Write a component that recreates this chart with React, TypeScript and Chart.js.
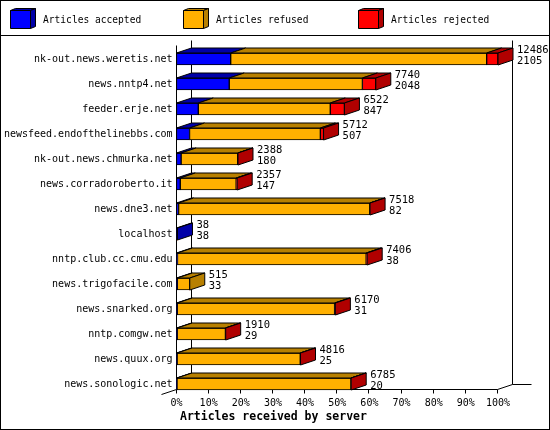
import React, { useEffect, useRef } from "react";
import { Chart, registerables } from "chart.js";

Chart.register(...registerables);

// servers, top to bottom
const hosts = [
  "nk-out.news.weretis.net",
  "news.nntp4.net",
  "feeder.erje.net",
  "newsfeed.endofthelinebbs.com",
  "nk-out.news.chmurka.net",
  "news.corradoroberto.it",
  "news.dne3.net",
  "localhost",
  "nntp.club.cc.cmu.edu",
  "news.trigofacile.com",
  "news.snarked.org",
  "nntp.comgw.net",
  "news.quux.org",
  "news.sonologic.net",
];

// numbers printed to the right of each bar
const totals = [12486, 7740, 6522, 5712, 2388, 2357, 7518, 38, 7406, 515, 6170, 1910, 4816, 6785];
const accepted = [2105, 2048, 847, 507, 180, 147, 82, 38, 38, 33, 31, 29, 25, 20];
// estimated from the bar segments
const refused = [9941, 5172, 5125, 5080, 2198, 2170, 7426, 0, 7328, 482, 6109, 1871, 4781, 6755];
const rejected = [440, 520, 550, 125, 10, 40, 10, 0, 40, 0, 30, 10, 10, 10];

const percentTicks = [0, 10, 20, 30, 40, 50, 60, 70, 80, 90, 100];

const seriesLabels = ["Articles accepted", "Articles refused", "Articles rejected"];
const frontColors = ["#0000ff", "#ffb000", "#ff0000"];
const darkColors = ["#0000a8", "#b88000", "#b00000"];

const MONO = "'DejaVu Sans Mono', monospace";
const DX = 15;
const DY = -5;
const BAR_H = 12;

const maxTotal = Math.max(...totals);

const poly = (ctx: CanvasRenderingContext2D, pts: number[][], fill: string) => {
  ctx.beginPath();
  ctx.moveTo(pts[0][0], pts[0][1]);
  for (let i = 1; i < pts.length; i++) ctx.lineTo(pts[i][0], pts[i][1]);
  ctx.closePath();
  ctx.fillStyle = fill;
  ctx.fill();
  ctx.stroke();
};

const line = (ctx: CanvasRenderingContext2D, x1: number, y1: number, x2: number, y2: number) => {
  ctx.beginPath();
  ctx.moveTo(x1, y1);
  ctx.lineTo(x2, y2);
  ctx.stroke();
};

const frame3d = {
  id: "frame3d",
  beforeDraw(chart: any) {
    const ctx = chart.ctx as CanvasRenderingContext2D;
    const { width, height } = chart;
    ctx.save();
    ctx.fillStyle = "#fff";
    ctx.fillRect(0, 0, width, height);
    ctx.strokeStyle = "#000";
    ctx.lineWidth = 1;
    ctx.strokeRect(0.5, 0.5, width - 1, height - 1);
    line(ctx, 0, 35.5, width, 35.5);

    // legend with little cubes
    const boxX = [10, 183, 358];
    ctx.font = `9.6px ${MONO}`;
    ctx.textBaseline = "middle";
    seriesLabels.forEach((lab, i) => {
      const x = boxX[i] + 0.5;
      const y = 10.5;
      const w = 20;
      const h = 18;
      poly(ctx, [[x, y], [x + w, y], [x + w + 5, y - 2], [x + 5, y - 2]], darkColors[i]);
      poly(ctx, [[x + w, y], [x + w + 5, y - 2], [x + w + 5, y + h - 2], [x + w, y + h]], darkColors[i]);
      poly(ctx, [[x, y], [x + w, y], [x + w, y + h], [x, y + h]], frontColors[i]);
      ctx.fillStyle = "#000";
      ctx.fillText(lab, boxX[i] + 33, 20);
    });
    ctx.restore();
  },
  beforeDatasetsDraw(chart: any) {
    const ctx = chart.ctx as CanvasRenderingContext2D;
    const xs = chart.scales.x;
    const ys = chart.scales.y;
    const left = Math.round(xs.getPixelForValue(0)) - 0.5;
    const right = Math.round(xs.getPixelForValue(maxTotal)) - 0.5;
    const floor = Math.round(ys.getPixelForValue(hosts.length - 1) + BAR_H / 2) - 0.5;
    const top = 40.5;
    ctx.save();
    ctx.strokeStyle = "#000";
    ctx.lineWidth = 1;
    line(ctx, left + DX, top, left + DX, floor + DY);
    line(ctx, right + DX, top, right + DX, floor + DY);
    line(ctx, left, top - DY, left, floor);
    line(ctx, left, floor, right, floor);
    line(ctx, right, floor, right + DX, floor + DY);
    line(ctx, right + DX, floor + DY, right + DX + 19, floor + DY);
    line(ctx, left, floor, left - DX, floor - DY);
    percentTicks.forEach((p) => {
      const tx = Math.round(xs.getPixelForValue((p / 100) * maxTotal)) - 0.5;
      line(ctx, tx, floor, tx, floor + 4);
    });
    ctx.restore();
  },
  afterDatasetsDraw(chart: any) {
    const ctx = chart.ctx as CanvasRenderingContext2D;
    ctx.save();
    ctx.strokeStyle = "#000";
    ctx.lineWidth = 1;
    hosts.forEach((_, i) => {
      let last: any = null;
      let lastDs = 0;
      for (let d = 0; d < 3; d++) {
        const el = chart.getDatasetMeta(d).data[i];
        const v = chart.data.datasets[d].data[i];
        if (!el || !v) continue;
        const { x, y, base } = el.getProps(["x", "y", "base"], true);
        const t = y - BAR_H / 2;
        poly(ctx, [[base, t], [x, t], [x + DX, t + DY], [base + DX, t + DY]], darkColors[d]);
        last = { x, y };
        lastDs = d;
      }
      if (!last) return;
      const t = last.y - BAR_H / 2;
      const b = last.y + BAR_H / 2;
      poly(ctx, [[last.x, t], [last.x + DX, t + DY], [last.x + DX, b + DY], [last.x, b]], darkColors[lastDs]);
      ctx.fillStyle = "#000";
      ctx.font = `10.5px ${MONO}`;
      ctx.textBaseline = "middle";
      ctx.textAlign = "left";
      ctx.fillText(String(totals[i]), last.x + DX + 4, last.y - 9);
      ctx.fillText(String(accepted[i]), last.x + DX + 4, last.y + 2);
    });

    // axis title
    ctx.font = `bold 11.5px ${MONO}`;
    ctx.fillText("Articles received by server", 180, 417);
    ctx.restore();
  },
};

export default function App() {
  const canvasRef = useRef<HTMLCanvasElement>(null);

  useEffect(() => {
    if (!canvasRef.current) return;
    const series = [accepted, refused, rejected];
    const chart = new Chart(canvasRef.current, {
      type: "bar",
      data: {
        labels: hosts,
        datasets: series.map((data, d) => ({
          label: seriesLabels[d],
          data,
          backgroundColor: frontColors[d],
          borderColor: "#000",
          borderWidth: (c: any) => (c.raw > 0 ? 1 : 0),
          borderSkipped: false,
          barThickness: BAR_H,
        })),
      },
      options: {
        indexAxis: "y",
        responsive: false,
        animation: false,
        layout: { padding: { top: 46.5, right: 52, left: 0, bottom: 0 } },
        plugins: {
          legend: { display: false },
          tooltip: { enabled: false },
        },
        scales: {
          x: {
            stacked: true,
            min: 0,
            max: maxTotal,
            grid: { display: false, drawTicks: false },
            border: { display: false },
            afterBuildTicks: (s: any) => {
              s.ticks = percentTicks.map((p) => ({ value: (p / 100) * maxTotal }));
            },
            afterFit: (s: any) => {
              s.height = 33.5;
            },
            ticks: {
              color: "#000",
              padding: 1,
              maxRotation: 0,
              autoSkip: false,
              font: { family: MONO, size: 10 },
              callback: (_v: any, idx: number) => `${percentTicks[idx]}%`,
            },
          },
          y: {
            stacked: true,
            grid: { display: false, drawTicks: false },
            border: { display: false },
            afterFit: (s: any) => {
              s.width = 176.5;
            },
            ticks: {
              color: "#000",
              padding: 4,
              autoSkip: false,
              font: { family: MONO, size: 10 },
            },
          },
        },
      },
      plugins: [frame3d],
    } as any);
    return () => chart.destroy();
  }, []);

  return (
    <div style={{ position: "fixed", left: 0, top: 0 }}>
      <canvas ref={canvasRef} width={550} height={430} />
    </div>
  );
}
